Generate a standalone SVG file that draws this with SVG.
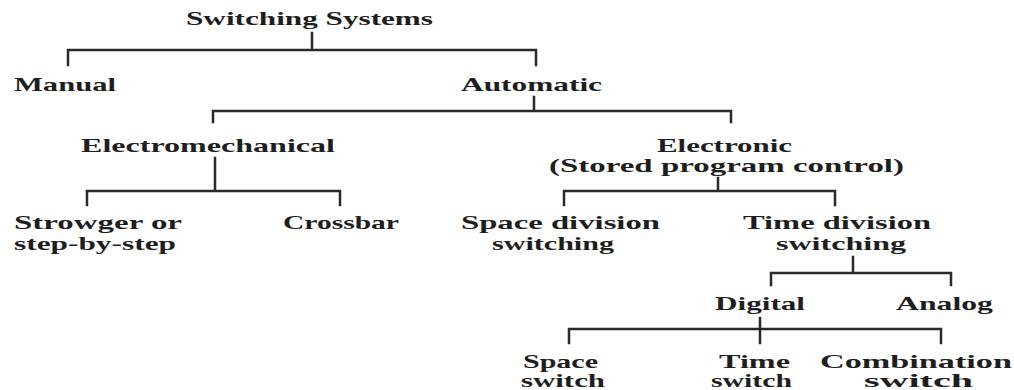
<svg xmlns="http://www.w3.org/2000/svg" width="1014" height="390" viewBox="0 0 1014 390">
<style>
  .t { font-family: "Liberation Serif", "Times New Roman", serif; font-size: 19px; font-weight: bold; fill: #1e1e1e; }
  .c { stroke: #2a2a2a; stroke-width: 2.5; fill: none; stroke-linecap: square; }
</style>
<rect x="0" y="0" width="1014" height="390" fill="#ffffff"/>
<g id="connectors" class="c">
  <path d="M312 33 V50 M68 65 V50 H536 V65"/>
  <path d="M534 97 V111 M213 122 V111 H731 V122"/>
  <path d="M215 158 V191 M87 205 V191 H340 V205"/>
  <path d="M718 178 V191 M564 205 V191 H835 V205"/>
  <path d="M853 257 V273 M771 285 V273 H951 V285"/>
  <path d="M760 318 V343 M569 343 V329 H941 V343"/>
</g>
<g id="switching-systems"><text class="t" x="186" y="25" textLength="247" lengthAdjust="spacingAndGlyphs">Switching Systems</text></g>
<g id="manual"><text class="t" x="14" y="91" textLength="102" lengthAdjust="spacingAndGlyphs">Manual</text></g>
<g id="automatic"><text class="t" x="461" y="91" textLength="141" lengthAdjust="spacingAndGlyphs">Automatic</text></g>
<g id="electromechanical"><text class="t" x="81" y="152" textLength="254" lengthAdjust="spacingAndGlyphs">Electromechanical</text></g>
<g id="electronic">
  <text class="t" x="657" y="152" textLength="135" lengthAdjust="spacingAndGlyphs">Electronic</text>
  <text class="t" x="549" y="172" textLength="355" lengthAdjust="spacingAndGlyphs">(Stored program control)</text>
</g>
<g id="strowger">
  <text class="t" x="14" y="229" textLength="168" lengthAdjust="spacingAndGlyphs">Strowger or</text>
  <text class="t" x="14" y="250" textLength="162" lengthAdjust="spacingAndGlyphs">step-by-step</text>
</g>
<g id="crossbar"><text class="t" x="283" y="229" textLength="116" lengthAdjust="spacingAndGlyphs">Crossbar</text></g>
<g id="space-division">
  <text class="t" x="461" y="229" textLength="199" lengthAdjust="spacingAndGlyphs">Space division</text>
  <text class="t" x="492" y="250" textLength="122" lengthAdjust="spacingAndGlyphs">switching</text>
</g>
<g id="time-division">
  <text class="t" x="743" y="229" textLength="188" lengthAdjust="spacingAndGlyphs">Time division</text>
  <text class="t" x="776" y="250" textLength="130" lengthAdjust="spacingAndGlyphs">switching</text>
</g>
<g id="digital"><text class="t" x="715" y="310" textLength="90" lengthAdjust="spacingAndGlyphs">Digital</text></g>
<g id="analog"><text class="t" x="896" y="310" textLength="97" lengthAdjust="spacingAndGlyphs">Analog</text></g>
<g id="space-switch">
  <text class="t" x="523" y="368" textLength="75" lengthAdjust="spacingAndGlyphs">Space</text>
  <text class="t" x="521" y="387" textLength="84" lengthAdjust="spacingAndGlyphs">switch</text>
</g>
<g id="time-switch">
  <text class="t" x="719" y="368" textLength="71" lengthAdjust="spacingAndGlyphs">Time</text>
  <text class="t" x="711" y="387" textLength="81" lengthAdjust="spacingAndGlyphs">switch</text>
</g>
<g id="combination-switch">
  <text class="t" x="820" y="368" textLength="192" lengthAdjust="spacingAndGlyphs">Combination</text>
  <text class="t" x="864" y="387" textLength="109" lengthAdjust="spacingAndGlyphs">switch</text>
</g>
</svg>
